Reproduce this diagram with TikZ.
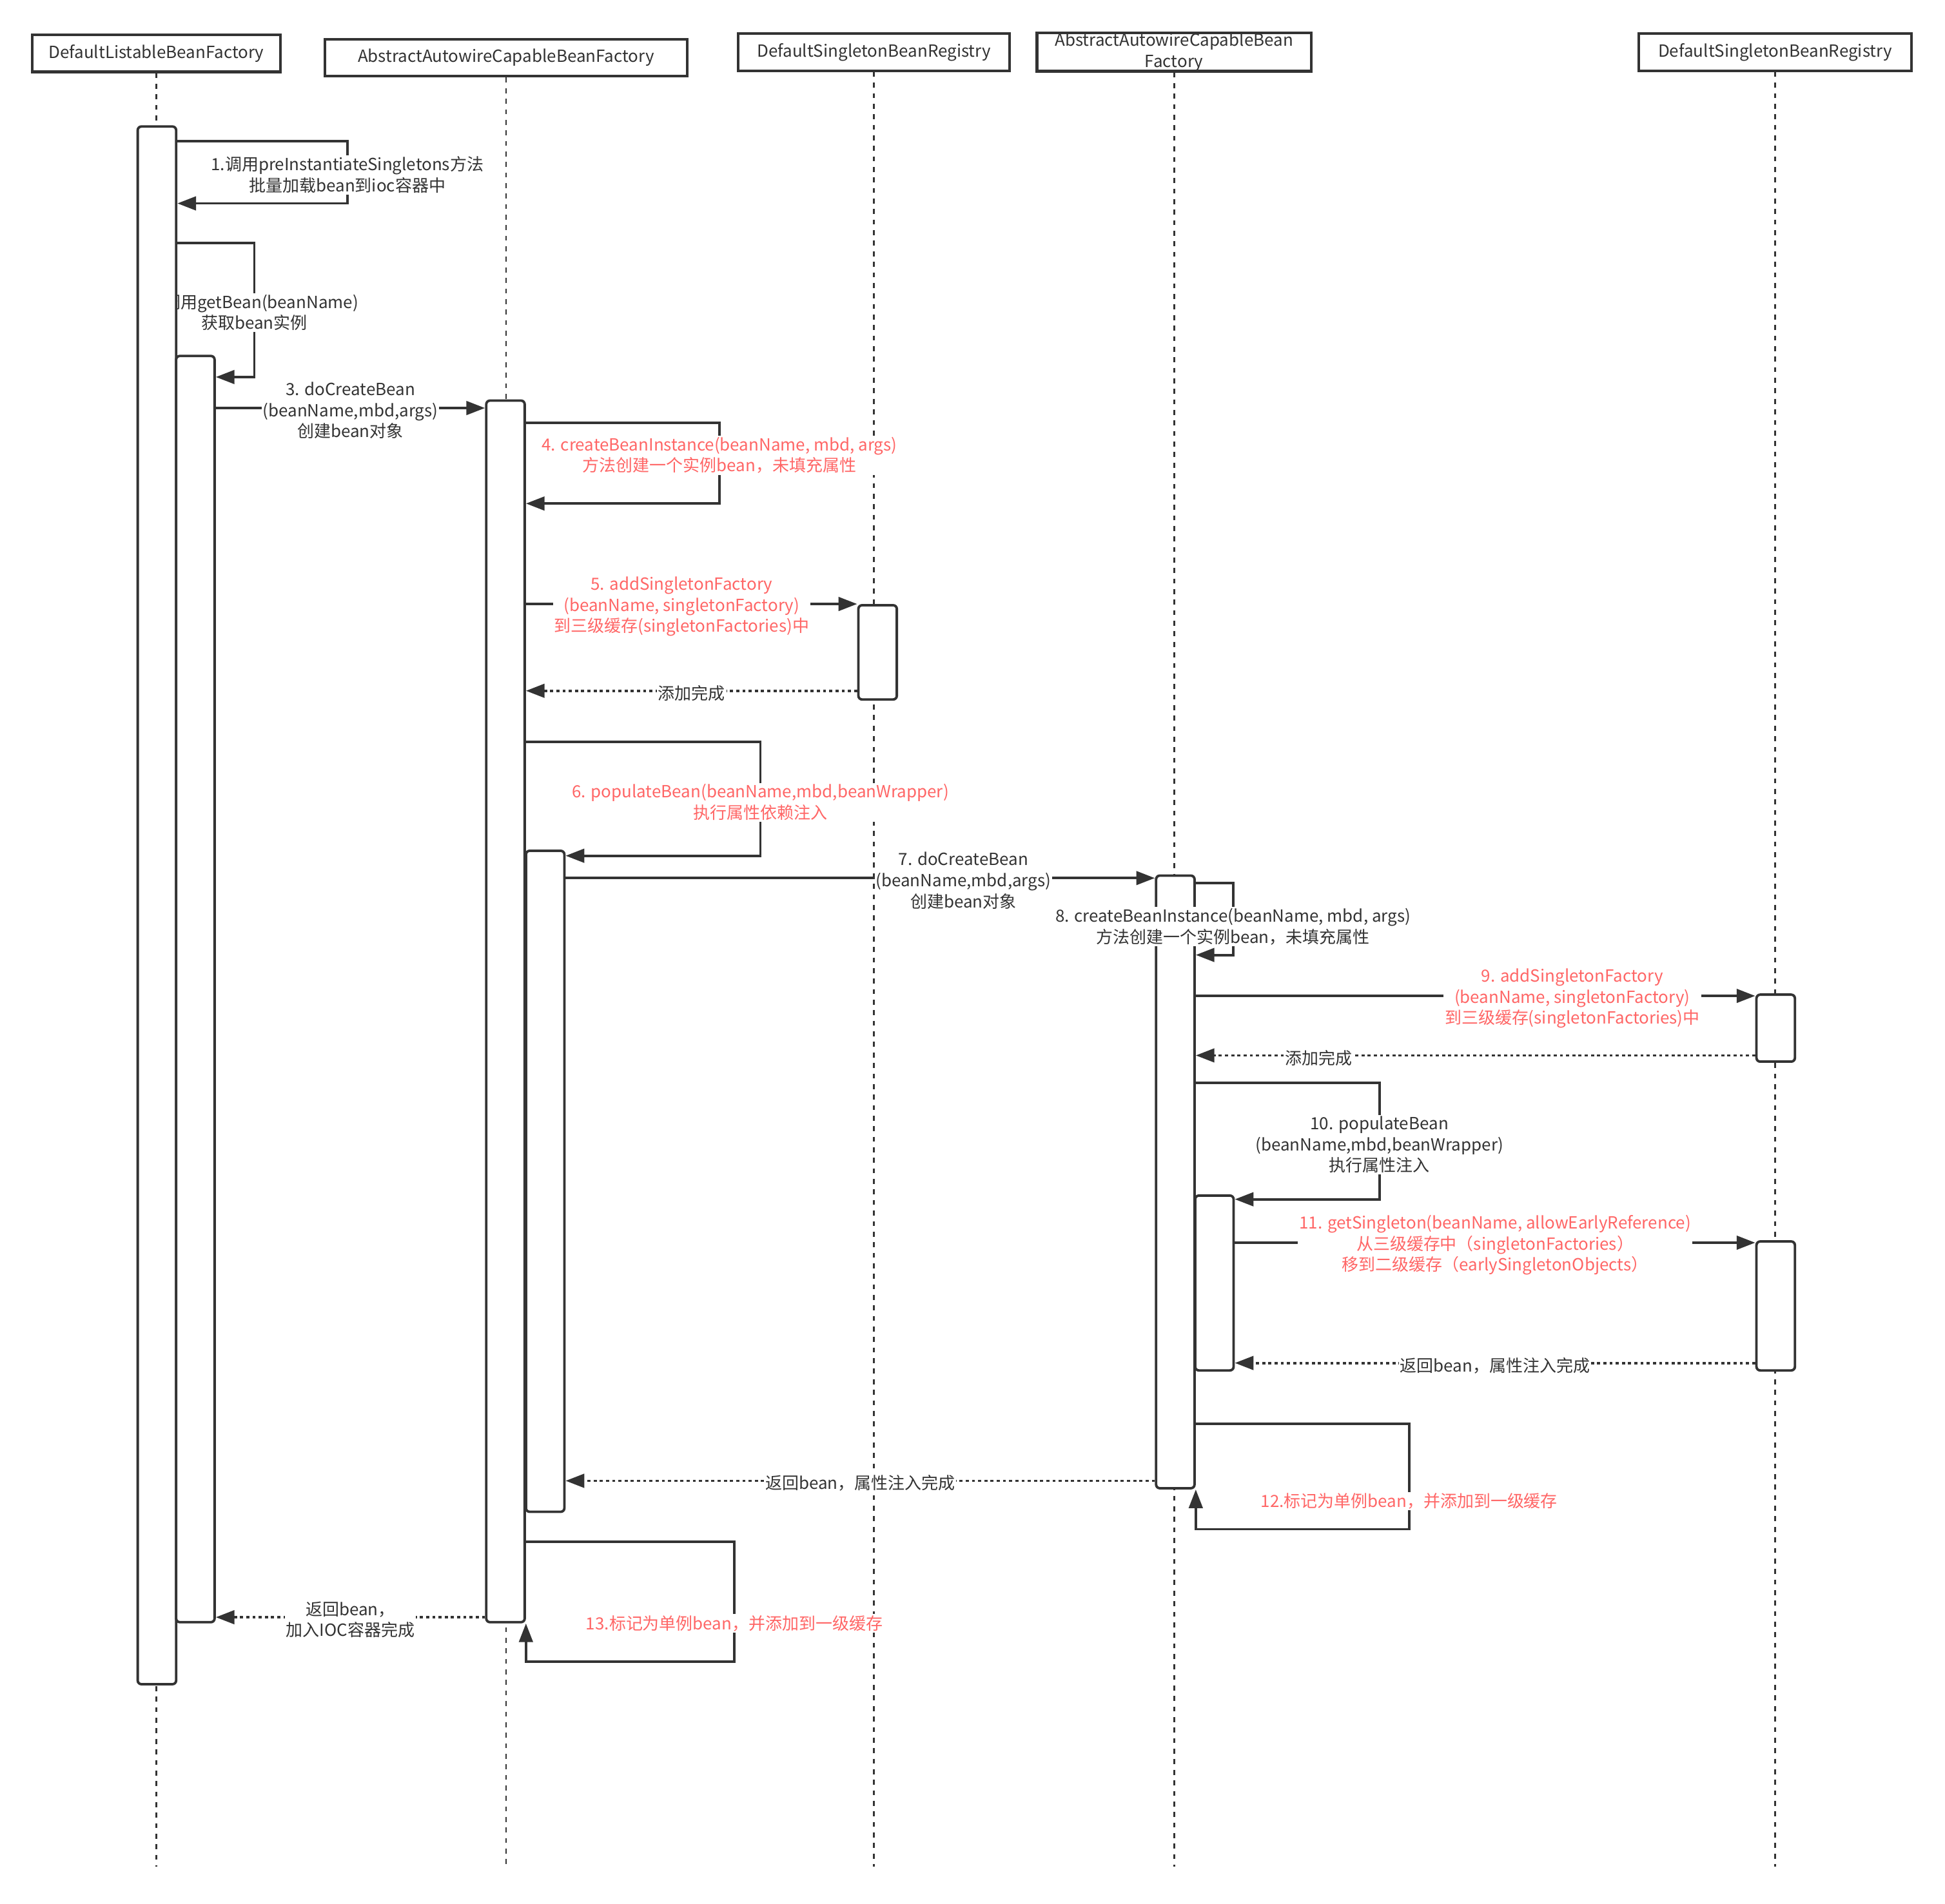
\documentclass[tikz,border=0pt]{standalone}
\usepackage{fontspec}
\setmainfont{Noto Sans CJK SC}
\usepackage{tikz}
\usetikzlibrary{arrows.meta}
\definecolor{ink}{HTML}{333333}
\definecolor{hotred}{HTML}{FF6666}
\newcommand{\lbl}{\fontsize{13.5}{17}\selectfont}
\pgfdeclarelayer{back}
\pgfsetlayers{back,main}
\tikzstyle{head}=[draw=ink, line width=2.2pt, fill=white, minimum height=30pt, inner sep=0pt, align=center, font=\lbl, text=ink]
\tikzstyle{bar}=[draw=ink, line width=2pt, fill=white, rounded corners=3pt, minimum width=31pt, inner sep=0pt]
\tikzstyle{life}=[draw=ink, line width=1.5pt, dash pattern=on 4pt off 4.5pt]
\tikzstyle{msg}=[draw=ink, line width=2pt, ->]
\tikzstyle{ret}=[msg, dash pattern=on 2.5pt off 2.5pt]
\tikzstyle{txt}=[fill=white, inner sep=1pt, align=center, font=\lbl, text=ink, yshift=-2pt]
\tikzstyle{hot}=[txt, text=hotred]

\begin{document}
\begin{tikzpicture}[x=1pt, y=-1pt, >={Triangle[length=15pt,width=11pt]}]
\useasboundingbox (0,0) rectangle (1568,1535);
%
  \node[head, minimum width=200pt] (dlbf) at (126,43) {DefaultListableBeanFactory};
  \node[head, minimum width=292pt] (aacbf) at (408,46.5) {AbstractAutowireCapableBeanFactory};
  \node[head, minimum width=219pt] (dsbr) at (704.5,42) {DefaultSingletonBeanRegistry};
  \node[head, minimum width=221pt] (aacbfb) at (946.5,42) {AbstractAutowireCapableBean\\Factory};
  \node[head, minimum width=220pt] (dsbrb) at (1431,42) {DefaultSingletonBeanRegistry};
%
  \node[bar, minimum height=1256pt] (a1) at (126.5,730) {};
  \node[bar, minimum height=1021pt] (a2) at (157.5,797.5) {};
  \node[bar, minimum height=985pt] (a3) at (407.5,815.5) {};
  \node[bar, minimum height=533pt] (a4) at (439.5,952.5) {};
  \node[bar, minimum height=76pt] (a5) at (707.5,526) {};
  \node[bar, minimum height=494pt] (a6) at (947.5,953) {};
  \node[bar, minimum height=141pt] (a7) at (979,1034.5) {};
  \node[bar, minimum height=54pt] (a8) at (1431.5,829) {};
  \node[bar, minimum height=104pt] (a9) at (1431.5,1053) {};
%
  \begin{pgfonlayer}{back}
  \draw[life] (dlbf.south) -- (dlbf.south |- 0,1505);
  \draw[life] (aacbf.south) -- (aacbf.south |- 0,1505);
  \draw[life] (dsbr.south) -- (dsbr.south |- 0,1505);
  \draw[life] (aacbfb.south) -- (aacbfb.south |- 0,1505);
  \draw[life] (dsbrb.south) -- (dsbrb.south |- 0,1505);
  % label 2 runs in under bar a1
  \draw[msg] (a1.east |- 0,196) -- ++(62,0) -- ++(0,108)
    node[midway, txt] {2.调用getBean(beanName)\\获取bean实例}
    -- (a2.east |- 0,304);
  \end{pgfonlayer}
%
  \draw[msg] (a1.east |- 0,114) -- ++(137,0) -- ++(0,50)
    node[midway, txt] {1.调用preInstantiateSingletons方法\\批量加载bean到ioc容器中}
    -- (a1.east |- 0,164);
  \draw[msg] (a2.east |- 0,329) -- node[txt] {3. doCreateBean\\(beanName,mbd,args)\\创建bean对象} (a3.west |- 0,329);
  \draw[msg] (a3.east |- 0,341) -- ++(156,0) -- ++(0,65)
    node[pos=0.37, hot] {4. createBeanInstance(beanName, mbd, args)\\方法创建一个实例bean，未填充属性}
    -- (a3.east |- 0,406);
  \draw[msg] (a3.east |- 0,487) -- node[pos=0.47, hot] {5. addSingletonFactory\\(beanName, singletonFactory)\\到三级缓存(singletonFactories)中} (a5.west |- 0,487);
  \draw[ret] (a5.west |- 0,557) -- node[txt] {添加完成} (a3.east |- 0,557);
  \draw[msg] (a3.east |- 0,598) -- ++(189,0) -- ++(0,92)
    node[pos=0.51, hot] {6. populateBean(beanName,mbd,beanWrapper)\\执行属性依赖注入}
    -- (a4.east |- 0,690);
  \draw[msg] (a4.east |- 0,708) -- node[pos=0.675, txt] {7. doCreateBean\\(beanName,mbd,args)\\创建bean对象} (a6.west |- 0,708);
  \draw[msg] (a6.east |- 0,712) -- ++(30,0) -- ++(0,58)
    node[pos=0.57, txt] {8. createBeanInstance(beanName, mbd, args)\\方法创建一个实例bean，未填充属性}
    -- (a6.east |- 0,770);
  \draw[msg] (a6.east |- 0,803) -- node[pos=0.673, hot] {9. addSingletonFactory\\(beanName, singletonFactory)\\到三级缓存(singletonFactories)中} (a8.west |- 0,803);
  \draw[ret] (a8.west |- 0,851) -- node[pos=0.78, txt] {添加完成} (a6.east |- 0,851);
  \draw[msg] (a6.east |- 0,873) -- ++(148,0) -- ++(0,94)
    node[pos=0.51, txt] {10. populateBean\\(beanName,mbd,beanWrapper)\\执行属性注入}
    -- (a7.east |- 0,967);
  \draw[msg] (a7.east |- 0,1002) -- node[hot] {11. getSingleton(beanName, allowEarlyReference)\\从三级缓存中（singletonFactories）\\移到二级缓存（earlySingletonObjects）} (a9.west |- 0,1002);
  \draw[ret] (a9.west |- 0,1099) -- node[txt] {返回bean，属性注入完成} (a7.east |- 0,1099);
  \draw[ret] (a6.west |- 0,1194) -- node[txt] {返回bean，属性注入完成} (a4.east |- 0,1194);
  \draw[msg] (a6.east |- 0,1148) -- ++(172,0) -- ++(0,85)
    node[pos=0.71, hot] {12.标记为单例bean，并添加到一级缓存}
    -- (a6.east |- 0,1233) -- (a6.south east);
  \draw[ret] (a3.west |- 0,1304) -- node[txt] {返回bean，\\加入IOC容器完成} (a2.east |- 0,1304);
  \draw[msg] (a3.east |- 0,1243) -- ++(168,0) -- ++(0,97)
    node[pos=0.66, hot] {13.标记为单例bean，并添加到一级缓存}
    -- (a3.east |- 0,1340) -- (a3.south east);
%
\end{tikzpicture}
\end{document}
